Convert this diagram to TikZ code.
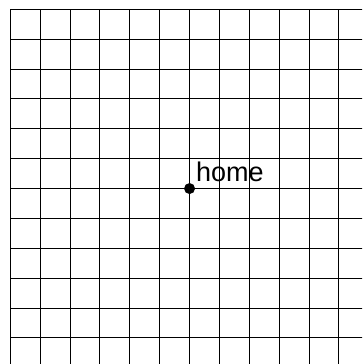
\documentclass[tikz,border=0pt]{standalone}
\usepackage{fontspec}
\setmainfont{Liberation Sans}
\begin{document}
\begin{tikzpicture}[x=1pt,y=-1pt,
  gridline/.style={line width=1pt,black,line cap=rect},
  dotnode/.style={circle,fill=black,inner sep=0pt,minimum size=11pt},
  labelnode/.style={anchor=base west,inner sep=0pt,font=\fontsize{27}{27}\selectfont}]
\useasboundingbox (0,0) rectangle (362,364);
\clip (0,0) rectangle (362,364);
\foreach \i in {0,...,11} {
  \draw[gridline] ({10.3+29.875*\i},9.3) -- ({10.3+29.875*\i},380);
  \draw[gridline] (10.3,{9.3+29.875*\i}) -- (380,{9.3+29.875*\i});
}
\node[dotnode] (home) at (189.55,188.55) {};
\node[labelnode] (lbl) at (195.8,181.7) {home};
\end{tikzpicture}
\end{document}
